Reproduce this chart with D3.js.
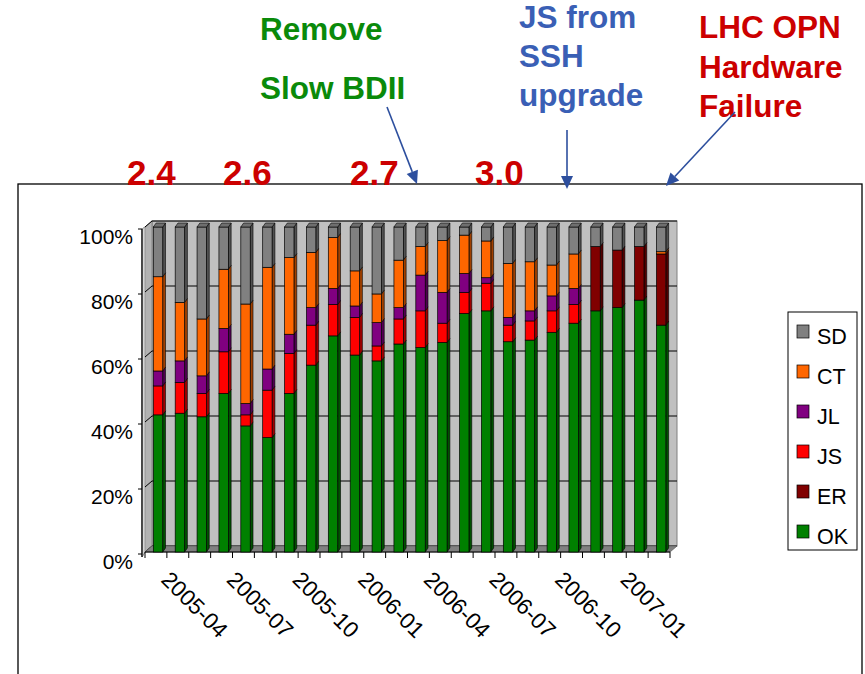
<!DOCTYPE html>
<html>
<head>
<meta charset="utf-8">
<script src="https://cdn.jsdelivr.net/npm/d3@7"></script>
<style>
  body { margin: 0; background: #fff; }
  text { font-family: "Liberation Sans", Arial, sans-serif; }
</style>
</head>
<body>
<div id="chart"></div>
<script>
// months on the x axis
var months = ["2005-04","2005-05","2005-06","2005-07","2005-08","2005-09","2005-10","2005-11",
  "2005-12","2006-01","2006-02","2006-03","2006-04","2006-05","2006-06","2006-07",
  "2006-08","2006-09","2006-10","2006-11","2006-12","2007-01","2007-02","2007-03"];

// percentages per series, stacked bottom to top: OK, ER, JS, JL, CT, SD
var OK = [42.2,42.7,41.6,48.8,38.8,35.2,48.8,57.5,66.5,60.6,58.8,64.0,62.9,64.5,73.4,74.2,64.7,65.2,67.6,70.4,74.2,75.2,77.5,69.8];
var ER = [0,0,0,0,0,0,0,0,0,0,0,0,0,0,0,0,0,0,0,0,19.8,17.7,16.5,21.9];
var JS = [8.9,9.5,7.2,12.8,3.4,14.6,12.3,12.3,9.7,11.6,4.6,7.7,11.3,5.9,6.5,8.5,5.1,5.9,6.6,5.8,0,0,0,0];
var JL = [4.6,6.6,5.4,7.2,3.5,6.5,5.9,5.4,4.9,3.5,7.2,3.5,11.0,9.5,5.8,1.7,2.4,3.1,4.6,4.9,0,0,0,0];
var CT = [29.0,18.0,17.5,18.2,30.6,31.3,23.6,17.0,15.7,10.8,8.8,14.6,8.8,15.9,11.8,11.3,16.6,15.1,9.5,10.6,0,0,0,0.7];
var SD = [15.3,23.2,28.3,13.0,23.7,12.4,9.4,7.8,3.2,13.5,20.6,10.2,6.0,4.2,2.5,4.3,11.2,10.7,11.7,8.3,6.0,7.1,6.0,7.6];

var seriesNames = ["OK","ER","JS","JL","CT","SD"];
var seriesValues = [OK, ER, JS, JL, CT, SD];
var legendOrder = ["SD","CT","JL","JS","ER","OK"];
var yTicks = [0, 20, 40, 60, 80, 100];
var xLabelMonths = ["2005-04","2005-07","2005-10","2006-01","2006-04","2006-07","2006-10","2007-01"];

var colors = { OK: "#008000", ER: "#800000", JS: "#ff0000", JL: "#800080", CT: "#ff6600", SD: "#808080" };

// table for the stack
var table = months.map(function (m, i) {
  var row = { month: m };
  seriesNames.forEach(function (s, k) { row[s] = seriesValues[k][i]; });
  return row;
});

var W = 865, H = 674;
var svg = d3.select("#chart").append("svg").attr("width", W).attr("height", H);

// scales (front plane of the bars)
var x = d3.scaleBand().domain(months).range([145, 670]).padding(0);
var y = d3.scaleLinear().domain([0, 100]).range([552, 227]);
var dx = 7, dy = -6; // depth offset to the back wall

// outer frame
svg.append("rect").attr("x", 18).attr("y", 184).attr("width", 844).attr("height", 520)
  .attr("fill", "#fff").attr("stroke", "#000").attr("stroke-width", 1.3);

// back wall
svg.append("rect").attr("x", x.range()[0] + dx).attr("y", y(100) + dy)
  .attr("width", x.range()[1] - x.range()[0]).attr("height", y(0) - y(100))
  .attr("fill", "#c0c0c0").attr("stroke", "#808080");

// side wall
svg.append("polygon")
  .attr("points", [[142, y(0) + 5], [142, y(100) + 2], [145, y(100)], [145 + dx, y(100) + dy], [145 + dx, y(0) + dy], [145, y(0)]].join(" "))
  .attr("fill", "#b2b2b2").attr("stroke", "#7a7a7a").attr("stroke-width", 0.8);
svg.append("polygon")
  .attr("points", [[142, y(0) + 5], [142, y(100) + 2], [145, y(100)], [145, y(0)]].join(" "))
  .attr("fill", "#d6d6d6").attr("stroke", "#7a7a7a").attr("stroke-width", 0.6);

// gridlines on back wall + side wall
yTicks.forEach(function (v) {
  svg.append("line").attr("x1", x.range()[0] + dx).attr("x2", x.range()[1] + dx)
    .attr("y1", y(v) + dy).attr("y2", y(v) + dy).attr("stroke", "#000").attr("stroke-width", 1);
  svg.append("line").attr("x1", 145).attr("x2", 145 + dx)
    .attr("y1", y(v)).attr("y2", y(v) + dy).attr("stroke", "#000").attr("stroke-width", 1);
  svg.append("line").attr("x1", 138).attr("x2", 142)
    .attr("y1", y(v) + 2).attr("y2", y(v) + 2).attr("stroke", "#000").attr("stroke-width", 1);
});

// floor
var x0 = x.range()[0], x1 = x.range()[1];
svg.append("polygon")
  .attr("points", [[x0, y(0)], [x1, y(0)], [x1 + dx, y(0) + dy], [x0 + dx, y(0) + dy]].join(" "))
  .attr("fill", "#808080").attr("stroke", "#606060").attr("stroke-width", 0.8);
svg.append("line").attr("x1", x0).attr("x2", x1).attr("y1", y(0)).attr("y2", y(0))
  .attr("stroke", "#000").attr("stroke-width", 1.2);
svg.append("line").attr("x1", 142).attr("x2", 142).attr("y1", y(100) + 2).attr("y2", y(0) + 5)
  .attr("stroke", "#000").attr("stroke-width", 1.2);

// x ticks at band boundaries
d3.range(months.length + 1).forEach(function (i) {
  var xx = x0 + i * x.bandwidth();
  svg.append("line").attr("x1", xx).attr("x2", xx).attr("y1", y(0)).attr("y2", y(0) + 6)
    .attr("stroke", "#000").attr("stroke-width", 1);
});

// stacked 3D bars
var stack = d3.stack().keys(seriesNames)(table);
var bw = x.bandwidth() * 0.43, bOff = x.bandwidth() * 0.38, sd = 2.8, td = 4;
var gBars = svg.append("g");
months.forEach(function (m, i) {
  var topKey = null, topVal = 0;
  stack.forEach(function (layer) {
    var d = layer[i];
    if (d[1] - d[0] <= 0) return;
    var c = colors[layer.key];
    var bx = x(m) + bOff, yt = y(d[1]), yb = y(d[0]);
    gBars.append("polygon")
      .attr("points", [[bx + bw, yt], [bx + bw + sd, yt - td], [bx + bw + sd, yb - td], [bx + bw, yb]].join(" "))
      .attr("fill", d3.color(c).darker(1.3)).attr("stroke", "#000").attr("stroke-width", 0.6);
    gBars.append("rect").attr("x", bx).attr("y", yt).attr("width", bw).attr("height", yb - yt)
      .attr("fill", c).attr("stroke", "#000").attr("stroke-width", 0.7);
    topKey = layer.key; topVal = d[1];
  });
  var bx = x(m) + bOff, yt = y(topVal);
  gBars.append("polygon")
    .attr("points", [[bx, yt], [bx + sd, yt - td], [bx + bw + sd, yt - td], [bx + bw, yt]].join(" "))
    .attr("fill", d3.color(colors[topKey]).darker(0.4)).attr("stroke", "#000").attr("stroke-width", 0.6);
});

// y labels
yTicks.forEach(function (v) {
  svg.append("text").attr("x", 133).attr("y", y(v) + 9).attr("text-anchor", "end")
    .attr("dominant-baseline", "central").style("font-size", "21px").text(v + "%");
});

// x labels, rotated
xLabelMonths.forEach(function (m) {
  var xx = x(m) + x.bandwidth() / 2 + 4, yy = y(0) + 29;
  svg.append("text").attr("transform", "translate(" + xx + "," + yy + ") rotate(45)")
    .style("font-size", "22.5px").text(m);
});

// legend
svg.append("rect").attr("x", 788).attr("y", 312).attr("width", 69).attr("height", 238)
  .attr("fill", "#fff").attr("stroke", "#000").attr("stroke-width", 1);
legendOrder.forEach(function (s, i) {
  var cy = 337 + i * 40;
  svg.append("rect").attr("x", 797).attr("y", cy - 12).attr("width", 12).attr("height", 13)
    .attr("fill", colors[s]).attr("stroke", "#000").attr("stroke-width", 0.7);
  svg.append("text").attr("x", 817).attr("y", cy).attr("dominant-baseline", "central")
    .style("font-size", "21.5px").text(s);
});

// annotations
var green = "#0a8a0a", blue = "#3a5fb5", red = "#cc0000";
function label(txt, xx, yy, col, size) {
  svg.append("text").attr("x", xx).attr("y", yy).attr("fill", col)
    .style("font-size", size + "px").style("font-weight", "bold").text(txt);
}
label("Remove", 260, 40, green, 31.5);
label("Slow BDII", 260, 99, green, 31.5);
label("JS from", 519, 28, blue, 31.5);
label("SSH", 519, 67, blue, 31.5);
label("upgrade", 519, 106, blue, 31.5);
label("LHC OPN", 699, 38, red, 31.5);
label("Hardware", 699, 78, red, 31.5);
label("Failure", 699, 117, red, 31.5);

var versions = [["2.4", 127], ["2.6", 223], ["2.7", 350], ["3.0", 475]];
versions.forEach(function (v) { label(v[0], v[1], 185, red, 35); });

// arrows
var arrowCol = "#2d4f9e";
function arrow(xa, ya, xb, yb) {
  var ang = Math.atan2(yb - ya, xb - xa), L = 13, Wd = 6;
  var bx = xb - L * Math.cos(ang), by = yb - L * Math.sin(ang);
  svg.append("line").attr("x1", xa).attr("y1", ya).attr("x2", bx).attr("y2", by)
    .attr("stroke", arrowCol).attr("stroke-width", 1.6);
  svg.append("polygon").attr("points", [[xb, yb],
      [bx + Wd * Math.sin(ang), by - Wd * Math.cos(ang)],
      [bx - Wd * Math.sin(ang), by + Wd * Math.cos(ang)]].join(" "))
    .attr("fill", arrowCol);
}
arrow(387, 107, 417, 184);
arrow(567, 130, 567, 189);
arrow(735, 112, 666, 186);
</script>
</body>
</html>
